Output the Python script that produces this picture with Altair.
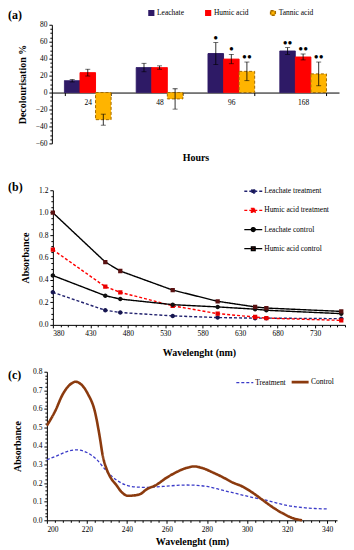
import altair as alt
import pandas as pd

FONT = "Liberation Serif"

# ---------------- Panel (a) data ----------------
hours = ["24", "48", "96", "168"]
series_a = ["Leachate", "Humic acid", "Tannic acid"]
leachate = [14, 29.5, 46, 49]
leachate_err = [1.5, 5, 13, 4]
humic = [23.5, 29.5, 39.5, 42]
humic_err = [4, 2, 5.5, 3.5]
tannic = [-32, -7.5, 25, 22]
tannic_err = [6.5, 12, 11, 14]
leachate_sig = ["", "", "•", "••"]
humic_sig = ["", "", "•", "••"]
tannic_sig = ["", "", "••", "••"]
a_ticks = [-60, -40, -20, 0, 20, 40, 60, 80]
a_minor = [v for v in range(-60, 81, 5) if v % 20]

# ---------------- Panel (b) data ----------------
wl_b = [380, 450, 470, 540, 600, 650, 665, 765]
series_b = ["Leachate treatment", "Humic acid treatment", "Leachate control", "Humic acid control"]
leach_treat = [0.29, 0.13, 0.11, 0.08, 0.065, 0.06, 0.06, 0.055]
humic_treat = [0.67, 0.34, 0.29, 0.17, 0.10, 0.07, 0.06, 0.04]
leach_ctrl = [0.44, 0.26, 0.23, 0.18, 0.16, 0.14, 0.13, 0.10]
humic_ctrl = [1.0, 0.56, 0.48, 0.31, 0.21, 0.16, 0.15, 0.12]
b_xticks = [380, 430, 480, 530, 580, 630, 680, 730]
b_xminor = [v for v in range(390, 771, 10) if (v - 380) % 50]
b_yticks = [0, 0.2, 0.4, 0.6, 0.8, 1.0, 1.2]
b_yminor = [0.05, 0.1, 0.15, 0.25, 0.3, 0.35, 0.45, 0.5, 0.55, 0.65, 0.7, 0.75,
            0.85, 0.9, 0.95, 1.05, 1.1, 1.15]

# ---------------- Panel (c) data ----------------
wl_treat = [200, 205, 210, 215, 220, 225, 230, 235, 240, 245, 250, 255, 260, 265, 270,
            275, 280, 285, 290, 295, 300, 305, 310, 315, 320, 325, 330, 335, 340]
treatment = [0.326, 0.347, 0.37, 0.379, 0.365, 0.326, 0.263, 0.215, 0.188, 0.179, 0.177,
             0.18, 0.184, 0.188, 0.19, 0.188, 0.182, 0.17, 0.156, 0.143, 0.13, 0.118,
             0.107, 0.093, 0.08, 0.072, 0.066, 0.063, 0.061]
wl_ctrl = [200, 204, 208, 212.3, 214.4, 217, 220.5, 224, 226.4, 228, 229.7, 232, 234.7, 237,
           240.5, 243.8, 247, 249.6, 254.6, 259.5, 264.5, 269.5, 273.6, 277.8, 282.8, 287.7,
           292.7, 297.7, 302.6, 307.6, 312.6, 317.6, 322.5, 327.5]
control = [0.51, 0.585, 0.68, 0.737, 0.746, 0.733, 0.68, 0.585, 0.45, 0.343, 0.28, 0.227,
           0.19, 0.156, 0.132, 0.134, 0.143, 0.165, 0.19, 0.227, 0.258, 0.281, 0.29, 0.281,
           0.258, 0.233, 0.204, 0.182, 0.15, 0.111, 0.072, 0.039, 0.013, 0.0]
c_xticks = [200, 220, 240, 260, 280, 300, 320, 340]
c_xminor = [v for v in range(204, 345, 4) if v % 20]
c_yticks = [0, 0.1, 0.2, 0.3, 0.4, 0.5, 0.6, 0.7, 0.8]
c_yminor = [round(i * 0.02, 2) for i in range(41) if i % 5]

# ---------------- Build tables ----------------
rows = []
for s, vals, errs, sigs in zip(series_a, [leachate, humic, tannic],
                               [leachate_err, humic_err, tannic_err],
                               [leachate_sig, humic_sig, tannic_sig]):
    for h, v, e, g in zip(hours, vals, errs, sigs):
        rows.append({"Hours": h, "Series": s, "Value": v, "lo": v - e, "hi": v + e, "Sig": g})
df_a = pd.DataFrame(rows)

rows = []
for s, vals in zip(series_b, [leach_treat, humic_treat, leach_ctrl, humic_ctrl]):
    for w, v in zip(wl_b, vals):
        rows.append({"Wavelength": w, "Series": s, "Absorbance": v})
df_b = pd.DataFrame(rows)

rows = []
for w, v in zip(wl_treat, treatment):
    rows.append({"Wavelength": w, "Series": "Treatment", "Absorbance": v})
for w, v in zip(wl_ctrl, control):
    rows.append({"Wavelength": w, "Series": "Control", "Absorbance": v})
df_c = pd.DataFrame(rows)

axis_common = dict(labelFont=FONT, titleFont=FONT, labelFontSize=7.5, titleFontSize=10,
                   titleFontWeight="bold", labelColor="black", titleColor="black",
                   domainColor="black", tickColor="black", tickSize=3, grid=False)


def minor_axis(orient, values, offset=0):
    return alt.Axis(orient=orient, values=values, labels=False, domain=False, title=None,
                    tickSize=2, tickColor="black", grid=False, offset=offset)


def panel_label(txt, x, y):
    return alt.Chart(pd.DataFrame({"t": [txt]})).mark_text(
        font=FONT, fontSize=12, fontWeight="bold", align="left", baseline="middle", color="black"
    ).encode(text="t:N", x=alt.value(x), y=alt.value(y))


def spacer(y_top, y_bottom):
    return alt.Chart(pd.DataFrame({"t": [0]})).mark_rule(opacity=0, strokeWidth=0.1).encode(
        x=alt.value(0), y=alt.value(y_top), y2=alt.value(y_bottom))


# ---------------- Panel (a) ----------------
OFF_A = 5
W_A, H_A = 288 + OFF_A, 119
yA = alt.Scale(domain=[-60, 80], nice=False)
xA = alt.X("Hours:N", sort=hours,
           scale=alt.Scale(paddingInner=0.35, paddingOuter=0.175, rangeMin=OFF_A),
           axis=alt.Axis(title="Hours", offset=-51, labelAngle=0, tickBand="extent",
                         titleY=60, titleBaseline="top", labelPadding=3, **axis_common))
xoffA = alt.XOffset("Series:N", sort=series_a, scale=alt.Scale(domain=series_a))
yAxisA = alt.Axis(title="Decolourisation %", values=a_ticks, titlePadding=8, offset=-OFF_A,
                  orient="left", **axis_common)

base_a = alt.Chart(df_a).encode(x=xA, xOffset=xoffA)
bars = base_a.mark_bar(strokeWidth=1).encode(
    y=alt.Y("Value:Q", scale=yA, axis=yAxisA),
    color=alt.Color("Series:N", sort=series_a,
                    scale=alt.Scale(domain=series_a, range=["#2e1a66", "#ff0000", "#ffb400"]),
                    legend=alt.Legend(title=None, orient="none", direction="horizontal",
                                      legendX=101, legendY=-16, symbolType="square",
                                      symbolSize=22, labelFont=FONT, labelFontSize=7.5,
                                      columnPadding=18, labelOffset=2)),
    stroke=alt.Stroke("Series:N", sort=series_a,
                      scale=alt.Scale(domain=series_a, range=["#2e1a66", "#ff0000", "#a36a00"]),
                      legend=alt.Legend(title=None)),
    strokeDash=alt.StrokeDash("Series:N", sort=series_a,
                              scale=alt.Scale(domain=series_a, range=[[1, 0], [1, 0], [3, 2]]),
                              legend=alt.Legend(title=None)),
)
err = base_a.mark_rule(color="black", strokeWidth=0.8).encode(
    y=alt.Y("lo:Q", scale=yA, axis=yAxisA), y2="hi:Q")
cap_lo = base_a.mark_tick(color="black", thickness=0.8, size=5).encode(
    y=alt.Y("lo:Q", scale=yA, axis=yAxisA))
cap_hi = base_a.mark_tick(color="black", thickness=0.8, size=5).encode(
    y=alt.Y("hi:Q", scale=yA, axis=yAxisA))
sig = base_a.mark_text(font=FONT, fontSize=14, baseline="middle", dy=-4, color="black").encode(
    y=alt.Y("hi:Q", scale=yA, axis=yAxisA), text="Sig:N")
minor_a = base_a.mark_point(opacity=0).encode(
    y=alt.Y("Value:Q", scale=yA, axis=minor_axis("left", a_minor, -OFF_A)))

chart_a = alt.layer(
    alt.layer(bars, err, cap_lo, cap_hi, sig), minor_a,
    panel_label("(a)", -39, -10), spacer(-16, 140)
).resolve_axis(y="independent").properties(width=W_A, height=H_A)

# ---------------- Panel (b) ----------------
OFF_B = 6
W_B, H_B = 293 + OFF_B, 135
xsB = alt.Scale(domain=[380, 770], nice=False, rangeMin=OFF_B)
ysB = alt.Scale(domain=[0, 1.2], nice=False)
xB = alt.X("Wavelength:Q", scale=xsB,
           axis=alt.Axis(title="Wavelenght (nm)", values=b_xticks, format="d", titlePadding=10,
                         orient="bottom", **axis_common))
yB = alt.Y("Absorbance:Q", scale=ysB,
           axis=alt.Axis(title="Absorbance", values=b_yticks, format=".1f", titlePadding=8,
                         orient="left", offset=-OFF_B, **axis_common))
# marker glyphs with a horizontal line segment: the segment is only stroked in the legend
CIRCLE_LINE = "M-1,0H1M0.22,0A0.22,0.22,0,1,1,-0.22,0A0.22,0.22,0,1,1,0.22,0Z"
SQUARE_LINE = "M-1,0H1M-0.21,-0.21H0.21V0.21H-0.21Z"
legend_b = alt.Legend(title=None, orient="none", legendX=197, legendY=-9,
                      symbolSize=324, symbolStrokeWidth=1.3,
                      labelFont=FONT, labelFontSize=7.5, rowPadding=4.2, labelOffset=1)
lines_b = alt.Chart(df_b).mark_line(strokeWidth=1.4).encode(
    x=xB, y=yB,
    color=alt.Color("Series:N", sort=series_b,
                    scale=alt.Scale(domain=series_b,
                                    range=["#22226e", "#ff0000", "#000000", "#000000"]),
                    legend=legend_b),
    strokeDash=alt.StrokeDash("Series:N", sort=series_b,
                              scale=alt.Scale(domain=series_b,
                                              range=[[3, 2], [3, 2], [1, 0], [1, 0]]),
                              legend=legend_b),
)
pts_b = alt.Chart(df_b).mark_point(filled=True, size=420, opacity=1, clip=True).encode(
    x=xB, y=yB,
    fill=alt.Fill("Series:N", sort=series_b,
                  scale=alt.Scale(domain=series_b,
                                  range=["#16164f", "#e80000", "#111111", "#5a1212"]),
                  legend=legend_b),
    shape=alt.Shape("Series:N", sort=series_b,
                    scale=alt.Scale(domain=series_b,
                                    range=[CIRCLE_LINE, SQUARE_LINE, CIRCLE_LINE, SQUARE_LINE]),
                    legend=legend_b),
)
minor_b = alt.Chart(df_b).mark_point(opacity=0).encode(
    x=alt.X("Wavelength:Q", scale=xsB, axis=minor_axis("bottom", b_xminor)),
    y=alt.Y("Absorbance:Q", scale=ysB, axis=minor_axis("left", b_yminor, -OFF_B)),
)
chart_b = alt.layer(
    alt.layer(lines_b, pts_b), minor_b, panel_label("(b)", -39, -3), spacer(-26, H_B + 33)
).resolve_axis(x="independent", y="independent").properties(width=W_B, height=H_B)

# ---------------- Panel (c) ----------------
W_C, H_C = 291, 149
series_c = ["Treatment", "Control"]
xsC = alt.Scale(domain=[200, 345], nice=False)
ysC = alt.Scale(domain=[0, 0.8], nice=False)
xC = alt.X("Wavelength:Q", scale=xsC,
           axis=alt.Axis(title="Wavelenght (nm)", values=c_xticks, format="d", titlePadding=4,
                         orient="bottom", **axis_common))
yC = alt.Y("Absorbance:Q", scale=ysC,
           axis=alt.Axis(title="Absorbance", values=c_yticks, format=".1f", titlePadding=10,
                         orient="left", **axis_common))
lines_c = alt.Chart(df_c).mark_line(interpolate="monotone").encode(
    x=xC, y=yC,
    color=alt.Color("Series:N", sort=series_c,
                    scale=alt.Scale(domain=series_c, range=["#3a3ac8", "#8b3a0e"]),
                    legend=alt.Legend(title=None, orient="none", direction="horizontal",
                                      legendX=189, legendY=0, symbolType="stroke",
                                      symbolSize=289, labelFont=FONT, labelFontSize=7.5,
                                      columnPadding=0, labelOffset=1)),
    strokeDash=alt.StrokeDash("Series:N", sort=series_c,
                              scale=alt.Scale(domain=series_c, range=[[3, 2], [1, 0]]),
                              legend=alt.Legend(title=None)),
    strokeWidth=alt.StrokeWidth("Series:N", sort=series_c,
                                scale=alt.Scale(domain=series_c, range=[1.3, 2.6]),
                                legend=alt.Legend(title=None)),
)
minor_c = alt.Chart(df_c).mark_point(opacity=0).encode(
    x=alt.X("Wavelength:Q", scale=xsC, axis=minor_axis("bottom", c_xminor)),
    y=alt.Y("Absorbance:Q", scale=ysC, axis=minor_axis("left", c_yminor)),
)
chart_c = alt.layer(
    lines_c, minor_c, panel_label("(c)", -39, 3), spacer(-14, H_C)
).resolve_axis(x="independent", y="independent").properties(width=W_C, height=H_C)

chart = alt.vconcat(chart_a, chart_b, chart_c, spacing=0).resolve_scale(
    color="independent", stroke="independent", strokeDash="independent",
    fill="independent", shape="independent", strokeWidth="independent",
).configure(padding=0).configure_view(stroke=None)

chart.save("out.html", embed_options={"renderer": "svg", "actions": False})
